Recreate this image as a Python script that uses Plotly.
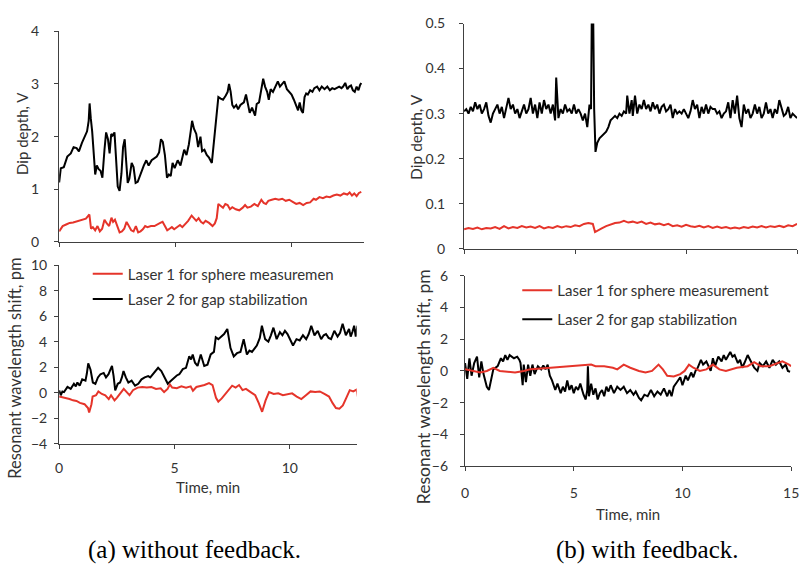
import plotly.graph_objects as go

W, H = 809, 573

# ---------------- data ----------------
# (a) without feedback, dip depth (V)
a_dip_laser2 = [(0,1.13),(0.07,1.4),(0.2,1.42),(0.35,1.62),(0.5,1.68),(0.62,1.8),(0.75,1.78),(0.85,1.72),(0.98,1.88),(1.1,2.0),(1.2,2.1),(1.27,2.3),(1.31,2.63),(1.36,2.35),(1.42,2.1),(1.5,1.6),(1.55,1.28),(1.62,1.45),(1.7,1.38),(1.78,1.35),(1.86,1.22),(1.95,1.75),(2.02,2.08),(2.1,1.95),(2.17,1.68),(2.24,2.05),(2.3,2.02),(2.38,2.08),(2.45,1.5),(2.52,1.05),(2.6,0.97),(2.68,1.3),(2.75,1.8),(2.82,1.95),(2.88,1.55),(2.95,1.12),(3.02,1.2),(3.12,1.5),(3.2,1.42),(3.29,1.12),(3.38,1.14),(3.5,1.3),(3.64,1.45),(3.75,1.55),(3.85,1.45),(3.98,1.55),(4.1,1.58),(4.2,1.62),(4.3,1.7),(4.38,1.95),(4.46,1.9),(4.55,1.65),(4.64,1.22),(4.72,1.28),(4.8,1.25),(4.88,1.5),(4.97,1.4),(5.1,1.55),(5.22,1.45),(5.3,1.62),(5.38,1.75),(5.48,1.65),(5.58,1.85),(5.66,2.1),(5.72,2.3),(5.8,2.15),(5.9,2.05),(5.98,1.8),(6.08,2.0),(6.15,1.72),(6.25,1.75),(6.35,1.65),(6.45,1.6),(6.57,1.5),(6.64,1.8),(6.71,2.15),(6.78,2.45),(6.85,2.75),(6.95,2.72),(7.05,2.7),(7.17,2.78),(7.25,2.85),(7.31,3.0),(7.38,2.85),(7.45,2.6),(7.52,2.55),(7.62,2.6),(7.7,2.52),(7.8,2.6),(7.87,2.62),(7.95,2.65),(8.04,2.8),(8.12,2.6),(8.2,2.45),(8.3,2.55),(8.43,2.4),(8.5,2.62),(8.6,2.65),(8.7,2.9),(8.78,3.1),(8.86,2.95),(8.95,2.85),(9.02,2.7),(9.1,2.9),(9.2,2.85),(9.3,2.95),(9.41,3.05),(9.5,2.95),(9.6,3.0),(9.69,3.05),(9.8,2.9),(9.9,2.85),(10.0,2.8),(10.1,2.7),(10.2,2.6),(10.28,2.5),(10.35,2.65),(10.42,2.5),(10.49,2.45),(10.56,2.75),(10.63,2.82),(10.7,2.8),(10.8,2.88),(10.9,2.85),(10.98,2.92),(11.1,2.95),(11.2,2.88),(11.3,2.95),(11.42,2.9),(11.54,2.95),(11.65,2.88),(11.75,2.92),(11.85,2.9),(11.95,2.92),(12.05,2.95),(12.15,2.92),(12.22,2.95),(12.31,3.02),(12.4,2.9),(12.48,2.95),(12.56,2.97),(12.64,2.88),(12.72,2.85),(12.8,2.95),(12.88,2.88),(12.95,2.98),(13.0,3.02)]
a_dip_laser1 = [(0,0.2),(0.15,0.3),(0.3,0.33),(0.45,0.36),(0.6,0.37),(0.8,0.4),(1.0,0.42),(1.15,0.44),(1.3,0.52),(1.37,0.25),(1.45,0.28),(1.55,0.22),(1.65,0.3),(1.75,0.2),(1.85,0.25),(1.95,0.42),(2.05,0.35),(2.15,0.3),(2.25,0.46),(2.32,0.38),(2.4,0.42),(2.5,0.3),(2.6,0.18),(2.7,0.2),(2.8,0.25),(2.9,0.38),(3.0,0.3),(3.1,0.22),(3.2,0.2),(3.3,0.3),(3.4,0.18),(3.5,0.2),(3.6,0.24),(3.7,0.3),(3.8,0.28),(3.95,0.3),(4.1,0.3),(4.2,0.33),(4.35,0.36),(4.45,0.38),(4.55,0.3),(4.65,0.22),(4.75,0.25),(4.85,0.28),(4.95,0.24),(5.1,0.28),(5.2,0.32),(5.3,0.28),(5.45,0.35),(5.55,0.4),(5.7,0.5),(5.8,0.45),(5.9,0.4),(6.0,0.45),(6.1,0.38),(6.2,0.35),(6.3,0.4),(6.45,0.36),(6.6,0.3),(6.7,0.35),(6.78,0.45),(6.85,0.72),(6.95,0.68),(7.05,0.65),(7.15,0.72),(7.25,0.7),(7.35,0.62),(7.45,0.66),(7.6,0.62),(7.75,0.6),(7.9,0.65),(8.0,0.7),(8.1,0.65),(8.25,0.67),(8.4,0.72),(8.55,0.68),(8.7,0.8),(8.8,0.74),(8.9,0.72),(9.0,0.78),(9.15,0.8),(9.3,0.82),(9.45,0.8),(9.6,0.82),(9.75,0.78),(9.9,0.8),(10.05,0.76),(10.2,0.72),(10.35,0.74),(10.5,0.7),(10.65,0.74),(10.8,0.75),(10.95,0.82),(11.05,0.8),(11.2,0.85),(11.35,0.83),(11.5,0.86),(11.65,0.85),(11.8,0.88),(11.95,0.9),(12.1,0.88),(12.25,0.92),(12.4,0.9),(12.5,0.94),(12.6,0.88),(12.7,0.92),(12.8,0.87),(12.9,0.93),(13.0,0.95)]

# (a) without feedback, resonant wavelength shift (pm)
a_shift_laser2 = [(0,0.18),(0.07,-0.2),(0.14,0.1),(0.21,0.05),(0.36,0.45),(0.5,0.3),(0.64,0.7),(0.72,0.5),(0.79,0.8),(0.89,0.55),(1.0,1.05),(1.14,0.95),(1.2,1.5),(1.26,2.3),(1.36,1.8),(1.46,0.8),(1.57,0.7),(1.68,1.2),(1.79,1.45),(1.93,1.55),(2.03,1.2),(2.14,1.45),(2.22,1.8),(2.29,2.1),(2.36,1.3),(2.43,0.18),(2.54,0.7),(2.64,0.8),(2.72,1.2),(2.79,1.7),(2.89,1.2),(3.0,0.8),(3.14,0.95),(3.29,0.55),(3.43,0.7),(3.57,1.05),(3.71,1.2),(3.86,1.3),(3.95,1.2),(4.07,1.45),(4.2,1.7),(4.29,1.95),(4.43,1.7),(4.57,1.2),(4.71,0.7),(4.86,0.95),(5.0,1.2),(5.1,1.35),(5.21,1.45),(5.36,1.85),(5.5,1.95),(5.58,2.5),(5.64,2.85),(5.72,2.6),(5.79,3.0),(5.89,2.35),(6.0,2.1),(6.14,3.0),(6.22,2.6),(6.29,2.1),(6.43,2.2),(6.57,3.0),(6.71,3.2),(6.79,4.35),(6.9,4.2),(7.0,4.35),(7.15,4.6),(7.29,5.0),(7.43,3.5),(7.57,2.85),(7.71,3.1),(7.86,3.2),(8.0,4.2),(8.14,3.0),(8.25,3.3),(8.36,3.2),(8.47,3.5),(8.57,3.7),(8.7,4.3),(8.79,5.25),(8.93,4.2),(9.07,4.0),(9.18,4.5),(9.29,5.1),(9.43,4.2),(9.57,4.75),(9.68,4.5),(9.79,4.85),(9.9,4.6),(10.0,4.2),(10.14,3.7),(10.29,4.2),(10.43,4.1),(10.57,4.5),(10.71,4.2),(10.82,4.6),(10.93,5.25),(11.07,4.5),(11.21,4.85),(11.36,4.2),(11.47,4.5),(11.57,4.6),(11.68,4.3),(11.79,4.2),(11.93,4.85),(12.07,4.4),(12.18,4.7),(12.29,5.4),(12.43,4.5),(12.57,5.0),(12.64,4.4),(12.72,4.8),(12.79,5.25),(12.86,4.4),(12.93,5.25)]
a_shift_laser1 = [(0,-0.3),(0.15,-0.35),(0.3,-0.4),(0.45,-0.5),(0.6,-0.6),(0.75,-0.65),(0.9,-0.8),(1.0,-0.85),(1.1,-0.9),(1.2,-1.1),(1.25,-1.2),(1.3,-1.55),(1.4,-0.9),(1.45,-0.3),(1.6,-0.2),(1.7,0.1),(1.85,-0.1),(2.0,-0.2),(2.15,-0.5),(2.25,-0.2),(2.4,-0.6),(2.5,-0.4),(2.65,0.0),(2.8,0.3),(2.9,0.1),(3.05,-0.2),(3.2,0.2),(3.4,0.4),(3.6,0.45),(3.8,0.4),(4.0,0.45),(4.2,0.3),(4.4,0.35),(4.55,0.05),(4.7,0.3),(4.8,0.65),(4.9,0.4),(5.1,0.35),(5.3,0.5),(5.5,0.4),(5.7,0.5),(5.8,0.15),(5.95,0.45),(6.1,0.5),(6.3,0.6),(6.5,0.75),(6.65,0.6),(6.8,-0.4),(6.9,-0.7),(7.05,-0.45),(7.2,-0.1),(7.35,0.2),(7.5,0.55),(7.65,0.4),(7.8,0.6),(7.95,0.2),(8.1,0.3),(8.3,0.05),(8.5,-0.2),(8.65,-0.8),(8.8,-1.5),(8.95,-0.6),(9.1,0.05),(9.3,-0.1),(9.5,-0.05),(9.7,-0.2),(9.9,-0.1),(10.1,-0.05),(10.3,-0.3),(10.5,-0.5),(10.7,-0.2),(10.9,0.1),(11.1,0.05),(11.3,0.1),(11.5,-0.1),(11.7,-0.3),(11.85,-0.8),(12.0,-1.2),(12.15,-1.25),(12.3,-1.0),(12.45,-0.4),(12.6,0.2),(12.75,0.1),(12.9,0.25),(12.95,-0.3)]

# (b) with feedback, dip depth (V)
b_dip_laser2 = [(0.0,0.305),(0.1,0.31),(0.2,0.30),(0.3,0.315),(0.4,0.305),(0.5,0.325),(0.6,0.31),(0.7,0.32),(0.8,0.30),(0.9,0.31),(1.0,0.325),(1.1,0.295),(1.2,0.28),(1.3,0.30),(1.4,0.31),(1.5,0.32),(1.6,0.30),(1.7,0.315),(1.8,0.29),(1.9,0.31),(2.0,0.335),(2.1,0.31),(2.2,0.32),(2.3,0.30),(2.4,0.31),(2.5,0.29),(2.6,0.305),(2.7,0.32),(2.8,0.30),(2.9,0.31),(3.0,0.335),(3.1,0.30),(3.2,0.32),(3.3,0.29),(3.4,0.325),(3.5,0.30),(3.6,0.33),(3.7,0.31),(3.8,0.32),(3.9,0.30),(4.0,0.32),(4.1,0.285),(4.15,0.38),(4.25,0.29),(4.35,0.31),(4.45,0.30),(4.55,0.32),(4.65,0.305),(4.75,0.31),(4.85,0.30),(4.95,0.32),(5.05,0.30),(5.15,0.31),(5.25,0.30),(5.35,0.285),(5.45,0.30),(5.55,0.27),(5.65,0.32),(5.72,0.31),(5.75,0.5),(5.82,0.5),(5.86,0.31),(5.92,0.215),(6.0,0.235),(6.1,0.245),(6.2,0.25),(6.3,0.255),(6.4,0.26),(6.5,0.27),(6.6,0.285),(6.7,0.29),(6.8,0.295),(6.9,0.29),(7.0,0.30),(7.1,0.295),(7.2,0.305),(7.3,0.30),(7.35,0.34),(7.45,0.30),(7.55,0.33),(7.6,0.295),(7.7,0.34),(7.8,0.30),(7.9,0.32),(8.0,0.31),(8.1,0.33),(8.2,0.31),(8.3,0.32),(8.4,0.305),(8.5,0.325),(8.6,0.31),(8.7,0.32),(8.8,0.30),(8.9,0.315),(9.0,0.32),(9.1,0.305),(9.2,0.31),(9.3,0.32),(9.4,0.29),(9.5,0.31),(9.6,0.30),(9.7,0.305),(9.8,0.30),(9.9,0.31),(10.0,0.30),(10.1,0.29),(10.2,0.305),(10.3,0.33),(10.4,0.31),(10.5,0.32),(10.6,0.29),(10.7,0.315),(10.8,0.30),(10.9,0.32),(11.0,0.30),(11.1,0.315),(11.2,0.31),(11.3,0.31),(11.4,0.30),(11.5,0.305),(11.6,0.29),(11.7,0.30),(11.8,0.305),(11.9,0.325),(12.0,0.29),(12.1,0.33),(12.2,0.30),(12.3,0.34),(12.4,0.29),(12.5,0.27),(12.6,0.32),(12.7,0.30),(12.8,0.31),(12.9,0.29),(13.0,0.30),(13.1,0.32),(13.2,0.30),(13.3,0.315),(13.4,0.29),(13.5,0.30),(13.6,0.325),(13.7,0.30),(13.8,0.31),(13.9,0.29),(14.0,0.31),(14.1,0.30),(14.2,0.33),(14.3,0.31),(14.4,0.295),(14.5,0.30),(14.6,0.315),(14.7,0.29),(14.8,0.30),(14.9,0.295),(15.0,0.29)]
b_dip_laser1 = [(0,0.043),(0.2,0.046),(0.4,0.044),(0.6,0.047),(0.8,0.043),(1.0,0.046),(1.2,0.045),(1.4,0.048),(1.6,0.044),(1.8,0.05),(2.0,0.045),(2.2,0.048),(2.4,0.046),(2.6,0.05),(2.8,0.047),(3.0,0.049),(3.2,0.046),(3.4,0.05),(3.6,0.045),(3.8,0.048),(4.0,0.046),(4.2,0.05),(4.4,0.047),(4.6,0.05),(4.8,0.048),(5.0,0.052),(5.2,0.05),(5.4,0.055),(5.6,0.057),(5.8,0.055),(5.9,0.037),(6.0,0.04),(6.2,0.045),(6.4,0.05),(6.6,0.053),(6.8,0.057),(7.0,0.058),(7.2,0.062),(7.4,0.058),(7.6,0.06),(7.8,0.057),(8.0,0.06),(8.2,0.055),(8.4,0.058),(8.6,0.054),(8.8,0.056),(9.0,0.052),(9.2,0.055),(9.4,0.05),(9.6,0.052),(9.8,0.049),(10.0,0.053),(10.2,0.05),(10.4,0.048),(10.6,0.051),(10.8,0.047),(11.0,0.05),(11.2,0.046),(11.4,0.049),(11.6,0.046),(11.8,0.048),(12.0,0.045),(12.2,0.047),(12.4,0.045),(12.6,0.048),(12.8,0.046),(13.0,0.049),(13.2,0.047),(13.4,0.05),(13.6,0.047),(13.8,0.05),(14.0,0.048),(14.2,0.051),(14.4,0.048),(14.6,0.052),(14.8,0.05),(15.0,0.055)]

# (b) with feedback, resonant wavelength shift (pm)
b_shift_laser2 = [(0,0.5),(0.1,-0.5),(0.2,0.8),(0.3,-0.3),(0.42,0.5),(0.55,0.9),(0.65,-0.4),(0.75,0.6),(0.85,-0.2),(0.9,-0.5),(1.0,-1.0),(1.1,-1.2),(1.2,-0.6),(1.3,0.1),(1.5,0.3),(1.65,0.8),(1.75,0.6),(1.85,1.0),(1.95,0.7),(2.05,1.0),(2.25,0.8),(2.4,0.9),(2.5,0.7),(2.55,0.5),(2.65,-0.9),(2.7,0.4),(2.8,-0.7),(2.9,0.4),(3.0,-0.3),(3.1,0.4),(3.2,-0.2),(3.35,0.3),(3.5,0.1),(3.6,0.35),(3.7,0.1),(3.8,0.4),(3.9,-0.3),(4.0,-0.6),(4.15,-1.2),(4.25,-0.8),(4.4,-1.4),(4.5,-1.0),(4.6,-1.3),(4.7,-0.6),(4.8,-1.2),(4.9,-0.9),(5.0,-1.4),(5.1,-1.0),(5.2,-1.2),(5.3,-0.8),(5.45,-1.5),(5.55,-1.8),(5.62,-1.2),(5.65,0.3),(5.7,-1.6),(5.8,-0.8),(5.9,-1.5),(6.0,-1.1),(6.1,-1.8),(6.2,-1.4),(6.3,-1.2),(6.4,-1.6),(6.5,-1.0),(6.6,-1.3),(6.7,-0.9),(6.85,-1.4),(7.0,-1.0),(7.15,-1.2),(7.3,-1.0),(7.45,-1.4),(7.6,-1.2),(7.75,-1.5),(7.85,-1.3),(8.0,-1.7),(8.1,-1.85),(8.25,-1.5),(8.4,-1.6),(8.55,-1.2),(8.7,-1.6),(8.85,-1.3),(9.0,-1.5),(9.15,-1.1),(9.3,-1.6),(9.4,-1.2),(9.5,-1.6),(9.6,-1.0),(9.75,-0.7),(9.9,-0.4),(10.0,-0.9),(10.15,-0.3),(10.25,-0.6),(10.4,-0.1),(10.5,-0.4),(10.6,0.0),(10.7,0.2),(10.85,0.7),(10.95,0.4),(11.1,0.6),(11.2,0.3),(11.3,0.0),(11.4,0.8),(11.5,0.3),(11.65,0.9),(11.8,0.6),(11.9,1.0),(12.0,0.7),(12.2,1.2),(12.3,0.9),(12.4,1.0),(12.55,0.5),(12.65,0.7),(12.75,0.2),(12.85,0.5),(13.0,1.0),(13.15,0.6),(13.3,0.2),(13.45,0.0),(13.55,0.5),(13.7,0.3),(13.85,0.6),(14.0,0.2),(14.15,0.7),(14.3,0.4),(14.45,0.6),(14.6,0.2),(14.75,0.4),(14.85,0.0),(14.95,-0.05)]
b_shift_laser1 = [(0,0.1),(0.3,0.0),(0.7,-0.1),(1.0,0.0),(1.3,0.2),(1.6,0.0),(2.0,-0.05),(2.3,-0.1),(2.7,0.0),(3.0,0.1),(3.5,0.15),(4.0,0.2),(4.5,0.25),(5.0,0.3),(5.5,0.35),(5.8,0.4),(6.0,0.3),(6.4,0.3),(6.8,0.2),(7.0,0.1),(7.3,0.4),(7.6,0.2),(8.0,0.0),(8.3,-0.1),(8.6,0.0),(8.9,0.4),(9.1,0.1),(9.3,-0.3),(9.6,-0.35),(9.9,-0.2),(10.1,0.0),(10.3,0.4),(10.5,0.2),(10.8,0.0),(11.1,0.1),(11.4,0.4),(11.7,0.1),(12.0,0.0),(12.5,0.2),(13.0,0.3),(13.3,0.55),(13.6,0.3),(14.0,0.3),(14.3,0.45),(14.6,0.6),(14.9,0.4),(15.0,0.3)]

legend_a = ["Laser 1 for sphere measuremen", "Laser 2 for gap stabilization"]
legend_b = ["Laser 1 for sphere measurement", "Laser 2 for gap stabilization"]
captions = ["(a) without feedback.", "(b) with feedback."]

RED = "#e5342a"
BLACK = "#000000"
AXC = "#404040"
FONT = "Lato"
TXT = "#333333"

def px_x(p):
    return p / W

def px_y(p):
    return 1 - p / H

def xs(pairs):
    return [p[0] for p in pairs]

def ys(pairs):
    return [p[1] for p in pairs]

fig = go.Figure()

def add(pairs, color, xa, ya, name=None, legend=None):
    fig.add_trace(go.Scatter(
        x=xs(pairs), y=ys(pairs), mode="lines", xaxis=xa, yaxis=ya,
        line=dict(color=color, width=2), name=name or "",
        showlegend=legend is not None, legend=legend or "legend",
        hoverinfo="skip"))

# top-left
add(a_dip_laser2, BLACK, "x", "y")
add(a_dip_laser1, RED, "x", "y")
# bottom-left
add(a_shift_laser2, BLACK, "x2", "y2", legend_a[1], "legend2")
add(a_shift_laser1, RED, "x2", "y2", legend_a[0], "legend")
# top-right
add(b_dip_laser2, BLACK, "x3", "y3")
add(b_dip_laser1, RED, "x3", "y3")
# bottom-right
add(b_shift_laser2, BLACK, "x4", "y4", legend_b[1], "legend4")
add(b_shift_laser1, RED, "x4", "y4", legend_b[0], "legend3")

tickfont = dict(family=FONT, size=14, color=TXT)

def xax(d0, d1, rng, labels, anchor, standoff=4):
    return dict(domain=[px_x(d0), px_x(d1)], range=rng, anchor=anchor,
                showgrid=False, zeroline=False, showline=True, linecolor=AXC,
                linewidth=1.3, ticks="outside", ticklen=4, tickcolor=AXC,
                tickwidth=1.3, tickvals=[0, 5, 10, 15], showticklabels=labels,
                tickfont=tickfont, ticklabelstandoff=standoff)

def yax(top, bot, rng, dtick, anchor, standoff):
    return dict(domain=[px_y(bot), px_y(top)], range=rng, anchor=anchor,
                showgrid=False, zeroline=False, showline=True, linecolor=AXC,
                linewidth=1.3, ticks="outside", ticklen=4, tickcolor=AXC,
                tickwidth=1.3, dtick=dtick, tick0=0, tickfont=tickfont,
                ticklabelstandoff=standoff)

legfont = dict(family=FONT, size=15, color=TXT)

def leg(x, y):
    return dict(x=px_x(x), y=px_y(y), xanchor="left", yanchor="middle",
                bgcolor="rgba(0,0,0,0)", font=legfont, itemwidth=30,
                borderwidth=0)

annotations = []
def ann(text, x, y, size=14, angle=0, family=FONT, color=TXT):
    annotations.append(dict(text=text, x=px_x(x), y=px_y(y), xref="paper",
                            yref="paper", showarrow=False, textangle=angle,
                            xanchor="center", yanchor="middle",
                            font=dict(family=family, size=size, color=color)))

ann("Dip depth, V", 18, 128, size=15, angle=-90)
ann("Resonant wavelength shift, pm", 11, 370, size=16.5, angle=-90)
ann("Dip depth, V", 418, 132, size=15.5, angle=-90)
ann("Resonant wavelength shift, pm", 426, 389, size=17.5, angle=-90)
ann("Time, min", 207, 493, size=15)
ann("Time, min", 633, 520, size=15)
ann(captions[0], 193, 558, size=25, family="Liberation Serif", color="#000000")
ann(captions[1], 653, 558, size=25, family="Liberation Serif", color="#000000")

fig.update_layout(
    width=W, height=H, margin=dict(l=0, r=0, t=0, b=0),
    paper_bgcolor="white", plot_bgcolor="white",
    xaxis=xax(56, 365, [0, 13.1], False, "y"),
    yaxis=yax(23, 240, [0, 4], 1, "x", 12),
    xaxis2=xax(56, 358, [0, 12.9], True, "y2", 7),
    yaxis2=yax(264, 448, [-4, 10], 2, "x2", 4),
    xaxis3=xax(467, 805, [0, 15], False, "y3"),
    yaxis3=yax(15, 247, [0, 0.5], 0.1, "x3", 11),
    xaxis4=xax(468, 799, [0, 15], True, "y4", 10),
    yaxis4=yax(275, 471, [-6, 6], 2, "x4", 9),
    legend=leg(85, 273),
    legend2=leg(85, 299),
    legend3=leg(521, 290),
    legend4=leg(521, 320),
    annotations=annotations,
    showlegend=True,
)

fig.write_html("out.html")
